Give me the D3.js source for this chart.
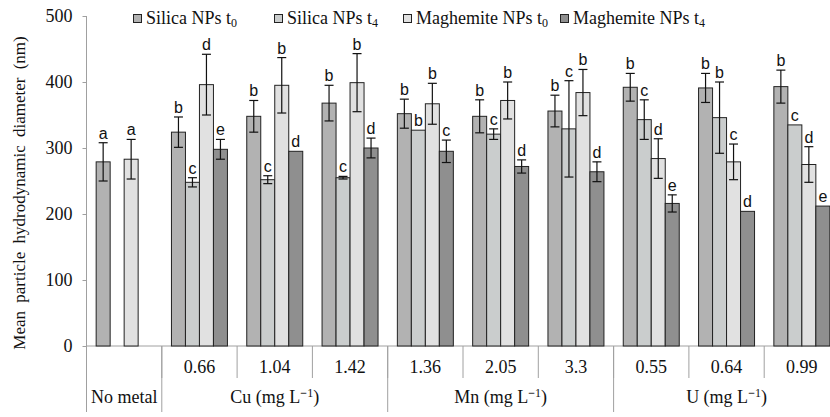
<!DOCTYPE html>
<html>
<head>
<meta charset="utf-8">
<script src="https://cdn.jsdelivr.net/npm/d3@7"></script>
<style>
  body { margin: 0; background: #fff; }
  text { fill: #111; }
</style>
</head>
<body>
<div id="chart-area"></div>
<script>
// concentrations (bottom row labels) and metal groups
const categories = ["No metal", "0.66", "1.04", "1.42", "1.36", "2.05", "3.3", "0.55", "0.64", "0.99"]
const metals = ["No metal", "Cu", "Mn", "U"]
const metalSpans = [1, 3, 3, 3]
const seriesNames = ["Silica NPs t0", "Silica NPs t4", "Maghemite NPs t0", "Maghemite NPs t4"]

const silicaT0 = [279, 324, 348, 368, 352, 348, 356, 392, 391, 393]
const silicaT0Err = [29, 23, 24, 27, 22, 25, 24, 21, 22, 25]
const silicaT4 = [null, 248, 252, 255, 327, 321, 329, 343, 346, 335]
const silicaT4Err = [null, 7, 6, 2, 0, 8, 73, 30, 54, 0]
const maghT0 = [283, 396, 395, 399, 367, 372, 384, 284, 279, 275]
const maghT0Err = [30, 46, 42, 44, 31, 28, 35, 30, 27, 27]
const maghT4 = [null, 298, 295, 300, 295, 272, 264, 216, 204, 212]
const maghT4Err = [null, 15, 0, 15, 17, 10, 15, 13, 0, 0]

const silicaT0Let = ["a", "b", "b", "b", "b", "b", "b", "b", "b", "b"]
const silicaT4Let = [null, "c", "c", "c", "b", "c", "c", "c", "b", "c"]
const maghT0Let = ["a", "d", "b", "b", "b", "b", "b", "d", "c", "d"]
const maghT4Let = [null, "e", "d", "d", "c", "d", "d", "e", "d", "e"]

const yTicks = [0, 100, 200, 300, 400, 500]

const colors = ["#b2b2b2", "#cacdcd", "#e1e1e1", "#8f8f8f"]
const SERIF = "Liberation Serif, Times New Roman, serif"

const W = 830, H = 417
const MARGIN = { LEFT: 86.5, TOP: 16, BOTTOM: 71 }
const BAND = 75.3
const HEIGHT = H - MARGIN.TOP - MARGIN.BOTTOM

const svg = d3.select("#chart-area").append("svg")
    .attr("width", W)
    .attr("height", H)

const g = svg.append("g")
    .attr("transform", `translate(${MARGIN.LEFT},${MARGIN.TOP})`)

// No metal: slot 0 is silica, slot 2 is maghemite
const series = [
  { v: silicaT0, e: silicaT0Err, l: silicaT0Let },
  { v: silicaT4, e: silicaT4Err, l: silicaT4Let },
  { v: maghT0, e: maghT0Err, l: maghT0Let },
  { v: maghT4, e: maghT4Err, l: maghT4Let }
]

const x = d3.scaleBand()
    .domain(categories)
    .range([0, BAND * categories.length])
    .padding(0)

const xs = d3.scaleBand()
    .domain(d3.range(4))
    .range([0, BAND])
    .paddingInner(0)
    .paddingOuter(0.69)

const y = d3.scaleLinear()
    .domain([0, 500])
    .range([HEIGHT, 0])

const bars = []
series.forEach((s, si) => {
  categories.forEach((c, ci) => {
    if (s.v[ci] == null) return
    bars.push({ c, si, v: s.v[ci], e: s.e[ci], l: s.l[ci] })
  })
})

// y axis
const yAxis = g.append("g")
    .call(d3.axisLeft(y).tickValues(yTicks).tickSize(4).tickPadding(10))
yAxis.select(".domain").remove()
yAxis.selectAll(".tick line").attr("stroke", "#a0a0a0")
yAxis.selectAll(".tick text")
    .attr("font-family", SERIF)
    .attr("font-size", 18)
    .style("fill", "#111")

g.append("line")
    .attr("x1", 0).attr("x2", 0)
    .attr("y1", 0).attr("y2", HEIGHT + 66)
    .attr("stroke", "#a0a0a0")

g.append("line")
    .attr("x1", 0).attr("x2", W)
    .attr("y1", HEIGHT).attr("y2", HEIGHT)
    .attr("stroke", "#a0a0a0")

// bars
g.selectAll("rect.bar")
    .data(bars)
    .enter().append("rect")
    .attr("class", "bar")
    .attr("x", d => x(d.c) + xs(d.si))
    .attr("y", d => y(d.v))
    .attr("width", xs.bandwidth())
    .attr("height", d => y(0) - y(d.v))
    .attr("fill", d => colors[d.si])
    .attr("stroke", "#222")
    .attr("stroke-width", 1)

// error bars
const eb = g.selectAll("g.err")
    .data(bars.filter(d => d.e > 0))
    .enter().append("g")
    .attr("class", "err")
    .attr("stroke", "#111")
    .attr("stroke-width", 1.2)
eb.append("line")
    .attr("x1", d => x(d.c) + xs(d.si) + xs.bandwidth() / 2)
    .attr("x2", d => x(d.c) + xs(d.si) + xs.bandwidth() / 2)
    .attr("y1", d => y(d.v + d.e))
    .attr("y2", d => y(d.v - d.e))
;[1, -1].forEach(sign => {
  eb.append("line")
      .attr("x1", d => x(d.c) + xs(d.si) + xs.bandwidth() / 2 - 4.5)
      .attr("x2", d => x(d.c) + xs(d.si) + xs.bandwidth() / 2 + 4.5)
      .attr("y1", d => y(d.v + sign * d.e))
      .attr("y2", d => y(d.v + sign * d.e))
})

// significance letters
g.selectAll("text.letter")
    .data(bars)
    .enter().append("text")
    .attr("class", "letter")
    .attr("x", d => x(d.c) + xs(d.si) + xs.bandwidth() / 2)
    .attr("y", d => y(d.v + d.e) - 4)
    .attr("text-anchor", "middle")
    .attr("font-family", "Liberation Sans, Arial, sans-serif")
    .attr("font-size", 16)
    .text(d => d.l)

// x axis separators and labels
categories.forEach((c, ci) => {
  g.append("line")
      .attr("x1", x(c) + BAND).attr("x2", x(c) + BAND)
      .attr("y1", HEIGHT).attr("y2", HEIGHT + 32)
      .attr("stroke", "#a0a0a0")
  if (ci > 0) {
    g.append("text")
        .attr("x", x(c) + BAND / 2)
        .attr("y", HEIGHT + 27)
        .attr("text-anchor", "middle")
        .attr("font-family", SERIF)
        .attr("font-size", 18)
        .text(c)
  }
})

let start = 0
metals.forEach((m, mi) => {
  const n = metalSpans[mi]
  const x0 = x(categories[start])
  const x1 = x0 + n * BAND
  g.append("line")
      .attr("x1", x1).attr("x2", x1)
      .attr("y1", HEIGHT).attr("y2", HEIGHT + 66)
      .attr("stroke", "#a0a0a0")
  const t = g.append("text")
      .attr("x", (x0 + x1) / 2)
      .attr("y", HEIGHT + 57)
      .attr("text-anchor", "middle")
      .attr("font-family", SERIF)
      .attr("font-size", 18)
  if (mi === 0) {
    t.text(m)
  } else {
    t.append("tspan").text(m + " (mg L")
    t.append("tspan").attr("font-size", 12).attr("dy", -6).attr("font-weight", "bold").text("\u2212")
    t.append("tspan").attr("font-size", 12).text("1")
    t.append("tspan").attr("dy", 6).text(")")
  }
  start += n
})

// y axis title
svg.append("text")
    .attr("transform", `translate(25,${MARGIN.TOP + HEIGHT / 2 + 12}) rotate(-90)`)
    .attr("text-anchor", "middle")
    .attr("font-family", SERIF)
    .attr("font-size", 17)
    .attr("word-spacing", 4)
    .text("Mean particle hydrodynamic diameter (nm)")

// legend
const legendX = [133, 274, 403, 560]
const legend = svg.selectAll("g.legend")
    .data(seriesNames)
    .enter().append("g")
    .attr("class", "legend")
    .attr("transform", (d, i) => `translate(${legendX[i]},0)`)
legend.append("rect")
    .attr("x", 0.5).attr("y", 14.5)
    .attr("width", 8).attr("height", 8)
    .attr("fill", (d, i) => colors[i])
    .attr("stroke", "#222")
legend.append("text")
    .attr("x", 13)
    .attr("y", 24)
    .attr("font-family", SERIF)
    .attr("font-size", 18)
    .each(function (d) {
      const t = d3.select(this)
      t.append("tspan").text(d.slice(0, -1))
      t.append("tspan").attr("font-size", 12).attr("dy", 3).text(d.slice(-1))
    })
</script>
</body>
</html>
